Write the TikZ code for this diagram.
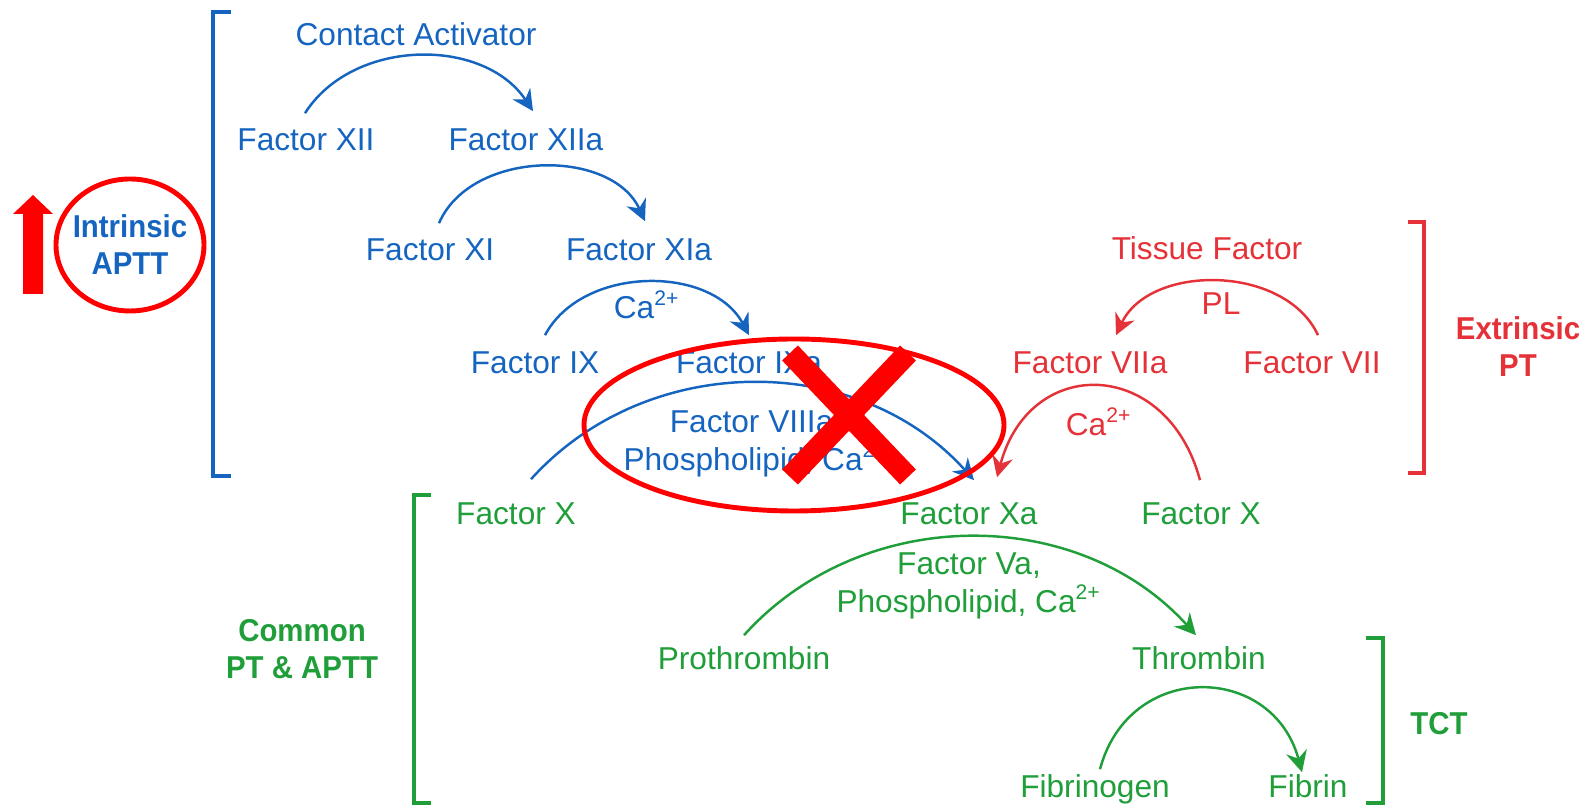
\documentclass[tikz,border=0pt]{standalone}
\usepackage{fontspec}
\setmainfont{Liberation Sans}
\usetikzlibrary{arrows.meta}
\definecolor{intblue}{HTML}{1565C0}
\definecolor{extred}{HTML}{E53238}
\definecolor{comgreen}{HTML}{1F9E3A}
\definecolor{markred}{HTML}{FF0000}
\tikzstyle{factor} = [inner sep=0pt, text height=6.6pt, text depth=0pt, font=\fontsize{9}{10.5}\selectfont]
\tikzstyle{cofactor} = [inner sep=0pt, align=center, font=\fontsize{9}{11}\selectfont]
\tikzstyle{pathway} = [inner sep=0pt, align=center, font=\fontsize{9}{10.5}\selectfont\bfseries\addfontfeature{FakeStretch=0.93}]
\tikzstyle{arrow} = [line width=0.7pt, -{Stealth[length=6pt,width=6pt,inset=2pt]}]
\tikzstyle{bracket} = [line width=1.2pt]
\tikzstyle{redmark} = [draw=markred, line width=1.4pt]

\begin{document}
\begin{tikzpicture}[x=0.1mm, y=0.1mm]
\useasboundingbox (0,0) rectangle (1595,-806);

% Intrinsic nodes
\node (contact) at (416,-34) [cofactor, text=intblue] {Contact Activator};
\node (xii) at (306,-139) [factor, text=intblue] {Factor XII};
\node (xiia) at (526,-139) [factor, text=intblue] {Factor XIIa};
\node (xi) at (430,-249) [factor, text=intblue] {Factor XI};
\node (xia) at (639,-249) [factor, text=intblue] {Factor XIa};
\node (caix) at (647,-305) [cofactor, text=intblue] {Ca\textsuperscript{2+}};
\node (ix) at (535,-362) [factor, text=intblue] {Factor IX};
\node (ixa) at (749,-362) [factor, text=intblue] {Factor IXa};
\node (tenase) at (756,-444) [cofactor, text=intblue] {Factor VIIIa,\\Phospholipid, Ca\textsuperscript{2+}};

% Extrinsic nodes
\node (tissue) at (1207,-248) [cofactor, text=extred] {Tissue Factor};
\node (pl) at (1221,-304) [cofactor, text=extred] {PL};
\node (viia) at (1090,-362) [factor, text=extred] {Factor VIIa};
\node (vii) at (1312,-362) [factor, text=extred] {Factor VII};
\node (caviia) at (1099,-422) [cofactor, text=extred] {Ca\textsuperscript{2+}};

% Common nodes
\node (xleft) at (516,-513) [factor, text=comgreen] {Factor X};
\node (xa) at (969,-513) [factor, text=comgreen] {Factor Xa};
\node (xright) at (1201,-513) [factor, text=comgreen] {Factor X};
\node (prothro) at (969,-586) [cofactor, text=comgreen] {Factor Va,\\Phospholipid, Ca\textsuperscript{2+}};
\node (prothrombin) at (744,-658) [factor, text=comgreen] {Prothrombin};
\node (thrombin) at (1199,-658) [factor, text=comgreen] {Thrombin};
\node (fibrinogen) at (1095,-786) [factor, text=comgreen] {Fibrinogen};
\node (fibrin) at (1308,-786) [factor, text=comgreen] {Fibrin};

% Pathway names
\node (intrinsic) at (130,-245) [pathway, text=intblue] {Intrinsic\\APTT};
\node (extrinsic) at (1518,-347) [pathway, text=extred] {Extrinsic\\PT};
\node (common) at (302,-649) [pathway, text=comgreen] {Common\\PT \& APTT};
\node (tct) at (1439,-724) [pathway, text=comgreen] {TCT};

% Arrows
\draw [arrow, intblue] ([shift={(-1,13.5)}]xii.north) to[bend left=57] ([shift={(7,15.5)}]xiia.north);
\draw [arrow, intblue] ([shift={(9,13.5)}]xi.north) to[bend left=66] ([shift={(6,15.5)}]xia.north);
\draw [arrow, intblue] ([shift={(10,14.5)}]ix.north) to[bend left=62] ([shift={(0,14.5)}]ixa.north);
\draw [arrow, intblue] ([shift={(15,21.5)}]xleft.north) to[bend left=48] ([shift={(5,20.5)}]xa.north);

\draw [arrow, extred] ([shift={(6,14.5)}]vii.north) to[bend right=65] ([shift={(26,14.5)}]viia.north);
\draw [arrow, extred] ([shift={(-1,20.5)}]xright.north) to[out=105, in=75, looseness=1.6] ([shift={(28,23.5)}]xa.north);

\draw [arrow, comgreen] ([shift={(0,10.5)}]prothrombin.north) to[bend left=48] ([shift={(-3,10.5)}]thrombin.north);
\draw [arrow, comgreen] ([shift={(5,4.5)}]fibrinogen.north) to[out=75, in=105, looseness=1.43] ([shift={(-6,1.5)}]fibrin.north);

% Brackets
\draw [bracket, intblue] (231,-12) -- (213,-12) -- (213,-476) -- (231,-476);
\draw [bracket, extred] (1408,-222) -- (1424,-222) -- (1424,-473) -- (1408,-473);
\draw [bracket, comgreen] (431,-495) -- (414,-495) -- (414,-803) -- (431,-803);
\draw [bracket, comgreen] (1366,-638) -- (1383,-638) -- (1383,-803) -- (1366,-803);

% Marks
\draw [redmark] (intrinsic) ellipse [x radius=74, y radius=66];
\fill [markred] (23,-294) -- (23,-214) -- (13,-214) -- (33,-195) -- (53,-214) -- (43,-214) -- (43,-294) -- cycle;
\draw [redmark] (794,-425) ellipse [x radius=210, y radius=86];
\draw [markred, line width=6.2pt] (790,-353) -- (908,-477);
\draw [markred, line width=6.2pt] (908,-353) -- (790,-477);

\end{tikzpicture}
\end{document}
